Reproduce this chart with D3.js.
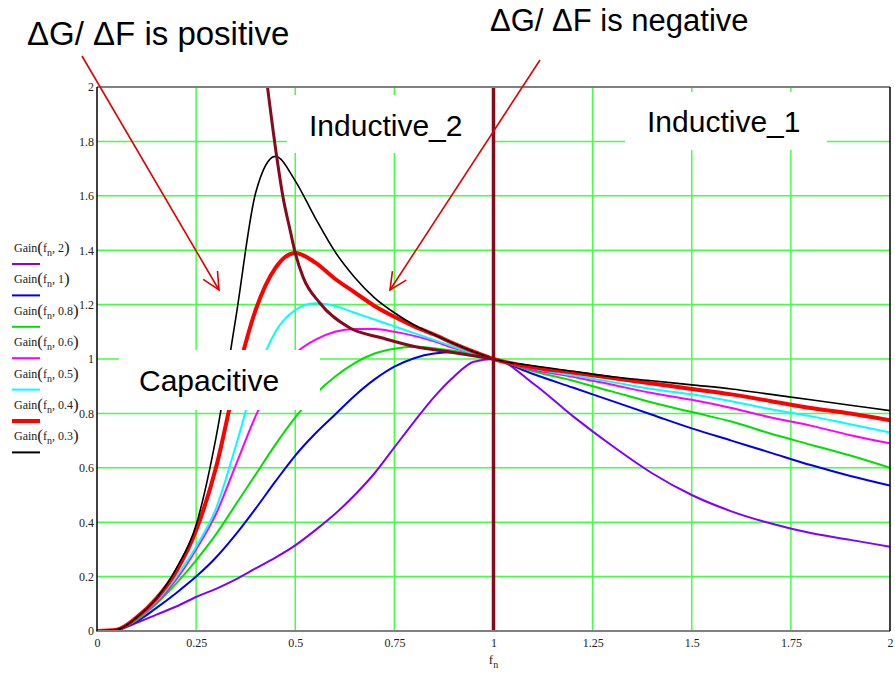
<!DOCTYPE html>
<html>
<head>
<meta charset="utf-8">
<script src="https://cdn.jsdelivr.net/npm/d3@7"></script>
<style>
	body { margin: 0; background: #fff; }
</style>
</head>
<body>
<svg id="chart" width="895" height="674"></svg>
<script>
// normalised frequency samples, shared by all gain curves
const fnVals = [0, 0.05, 0.1, 0.15, 0.2, 0.25, 0.3, 0.35, 0.4, 0.45, 0.5, 0.55, 0.6, 0.65, 0.7, 0.75, 0.8, 0.85, 0.9, 0.95, 1,
	1.1, 1.2, 1.3, 1.4, 1.5, 1.6, 1.7, 1.8, 1.9, 2];

const gainQ2 = [0, 0.004, 0.03, 0.06, 0.09, 0.125, 0.155, 0.19, 0.23, 0.27, 0.315, 0.37, 0.43, 0.5, 0.58, 0.675, 0.77, 0.86, 0.935, 0.99, 1,
	0.91, 0.79, 0.68, 0.58, 0.5, 0.44, 0.395, 0.36, 0.335, 0.31];
const gainQ1 = [0, 0.005, 0.035, 0.085, 0.14, 0.2, 0.27, 0.355, 0.45, 0.55, 0.645, 0.725, 0.795, 0.865, 0.925, 0.972, 1.003, 1.02, 1.025, 1.015, 1,
	0.945, 0.895, 0.845, 0.795, 0.745, 0.7, 0.655, 0.61, 0.57, 0.535];
const gainQ08 = [0, 0.005, 0.04, 0.1, 0.175, 0.26, 0.355, 0.465, 0.575, 0.685, 0.785, 0.87, 0.935, 0.985, 1.02, 1.038, 1.045, 1.04, 1.03, 1.015, 1,
	0.955, 0.92, 0.88, 0.84, 0.805, 0.77, 0.725, 0.685, 0.645, 0.6];
const gainQ06 = [0, 0.005, 0.045, 0.105, 0.19, 0.3, 0.43, 0.61, 0.79, 0.93, 1.02, 1.07, 1.1, 1.11, 1.11, 1.1, 1.085, 1.065, 1.04, 1.02, 1,
	0.96, 0.935, 0.905, 0.875, 0.85, 0.82, 0.785, 0.755, 0.72, 0.69];
const gainQ05 = [0, 0.005, 0.045, 0.11, 0.2, 0.31, 0.45, 0.68, 0.93, 1.1, 1.18, 1.205, 1.195, 1.17, 1.145, 1.12, 1.095, 1.07, 1.045, 1.02, 1,
	0.965, 0.94, 0.915, 0.89, 0.87, 0.845, 0.815, 0.79, 0.76, 0.73];
const gainQ04 = [0, 0.005, 0.05, 0.12, 0.22, 0.37, 0.6, 0.92, 1.18, 1.335, 1.39, 1.355, 1.295, 1.245, 1.195, 1.155, 1.12, 1.09, 1.057, 1.027, 1,
	0.97, 0.95, 0.93, 0.91, 0.89, 0.87, 0.845, 0.82, 0.8, 0.775];
const gainQ03 = [0, 0.005, 0.05, 0.12, 0.23, 0.39, 0.71, 1.15, 1.61, 1.745, 1.655, 1.52, 1.395, 1.3, 1.225, 1.17, 1.125, 1.09, 1.057, 1.027, 1,
	0.975, 0.955, 0.935, 0.92, 0.905, 0.89, 0.87, 0.85, 0.83, 0.81];

const qLabels = ["2", "1", "0.8", "0.6", "0.5", "0.4", "0.3"];
const seriesColors = ["#8000ff", "#0000f0", "#00e000", "#ff00ff", "#00ffff", "#ff0000", "#000000"];
const seriesWidths = [2, 2, 2, 2, 2, 4, 1.6];
const seriesGains = [gainQ2, gainQ1, gainQ08, gainQ06, gainQ05, gainQ04, gainQ03];

// peak gain boundary (dark red curve)
const boundFn = [0.43, 0.453, 0.469, 0.487, 0.5, 0.52, 0.562, 0.638, 0.72, 0.807, 0.89, 1.0];
const boundGain = [2.0, 1.746, 1.596, 1.474, 1.39, 1.3, 1.206, 1.114, 1.077, 1.044, 1.026, 1.0];

const xTicks = [0, 0.25, 0.5, 0.75, 1, 1.25, 1.5, 1.75, 2];
const yTicks = [0, 0.2, 0.4, 0.6, 0.8, 1, 1.2, 1.4, 1.6, 1.8, 2];

const chart = d3.select("#chart");
const plotLeft = 97, plotRight = 890, plotTop = 87, plotBottom = 631;
const gridColor = "#44ff44";
const darkRed = "#860a1e";
const tickFont = "'Liberation Serif', 'Times New Roman', serif";
const labelFont = "'Liberation Sans', Arial, sans-serif";

const x = d3.scaleLinear().domain([0, 2]).range([plotLeft, plotRight]);
const y = d3.scaleLinear().domain([0, 2]).range([plotBottom, plotTop]);

chart.append("defs").append("clipPath")
	.attr("id", "plotclip")
	.append("rect")
	.attr("x", plotLeft)
	.attr("y", plotTop)
	.attr("width", plotRight - plotLeft)
	.attr("height", plotBottom - plotTop);

// grid
const grid = chart.append("g");
grid.selectAll("line.v")
	.data(xTicks.filter(d => d > 0 && d < 2 && d !== 1))
	.enter()
	.append("line")
	.attr("x1", d => x(d))
	.attr("x2", d => x(d))
	.attr("y1", plotTop)
	.attr("y2", plotBottom)
	.attr("stroke", gridColor)
	.attr("stroke-width", 1.5);
grid.selectAll("line.h")
	.data(yTicks.filter(d => d > 0 && d < 2))
	.enter()
	.append("line")
	.attr("x1", plotLeft)
	.attr("x2", plotRight)
	.attr("y1", d => y(d))
	.attr("y2", d => y(d))
	.attr("stroke", gridColor)
	.attr("stroke-width", 1.5);

// gain curves
const line = d3.line()
	.x(d => x(d[0]))
	.y(d => y(d[1]))
	.curve(d3.curveMonotoneX);

const curves = chart.append("g").attr("clip-path", "url(#plotclip)");
curves.selectAll("path")
	.data(seriesGains)
	.enter()
	.append("path")
	.attr("d", g => line(fnVals.map((f, i) => [f, g[i]])))
	.attr("fill", "none")
	.attr("stroke", (g, i) => seriesColors[i])
	.attr("stroke-width", (g, i) => seriesWidths[i])
	.attr("stroke-linejoin", "round");

// white label boxes
const boxes = [
	{ text: "Capacitive", x0: 119, x1: 320, y0: 350, y1: 410, tx: 139, ty: 391 },
	{ text: "Inductive_2", x0: 287, x1: 495, y0: 95, y1: 153, tx: 309, ty: 136 },
	{ text: "Inductive_1", x0: 625, x1: 827, y0: 92, y1: 150, tx: 647, ty: 132 }
];
const labels = chart.append("g");
labels.selectAll("rect")
	.data(boxes)
	.enter()
	.append("rect")
	.attr("x", d => d.x0)
	.attr("y", d => d.y0)
	.attr("width", d => d.x1 - d.x0)
	.attr("height", d => d.y1 - d.y0)
	.attr("fill", "#fff");
labels.selectAll("text")
	.data(boxes)
	.enter()
	.append("text")
	.text(d => d.text)
	.attr("x", d => d.tx)
	.attr("y", d => d.ty)
	.attr("font-family", labelFont)
	.attr("font-size", 30)
	.attr("fill", "#000");

// boundary curve and fn = 1 marker
chart.append("path")
	.attr("clip-path", "url(#plotclip)")
	.attr("d", line(boundFn.map((f, i) => [f, boundGain[i]])))
	.attr("fill", "none")
	.attr("stroke", darkRed)
	.attr("stroke-width", 3);
chart.append("line")
	.attr("x1", x(1))
	.attr("x2", x(1))
	.attr("y1", plotTop)
	.attr("y2", plotBottom)
	.attr("stroke", darkRed)
	.attr("stroke-width", 3.5);

// frame
const frame = chart.append("g");
frame.append("line").attr("x1", plotLeft).attr("x2", plotRight).attr("y1", plotTop).attr("y2", plotTop)
	.attr("stroke", "#808080").attr("stroke-width", 2);
frame.append("line").attr("x1", plotLeft - 1).attr("x2", plotRight).attr("y1", plotBottom).attr("y2", plotBottom)
	.attr("stroke", "#808080").attr("stroke-width", 2);
frame.append("line").attr("x1", plotLeft).attr("x2", plotLeft).attr("y1", plotTop).attr("y2", plotBottom)
	.attr("stroke", "#000").attr("stroke-width", 1.5);
frame.append("line").attr("x1", plotRight).attr("x2", plotRight).attr("y1", plotTop).attr("y2", plotBottom)
	.attr("stroke", "#000").attr("stroke-width", 1.5);

// axes (labels only)
const xAxis = chart.append("g")
	.attr("transform", "translate(0," + plotBottom + ")")
	.call(d3.axisBottom(x).tickValues(xTicks).tickSize(0).tickPadding(7).tickFormat(d3.format("")));
const yAxis = chart.append("g")
	.attr("transform", "translate(" + plotLeft + ",0)")
	.call(d3.axisLeft(y).tickValues(yTicks).tickSize(0).tickPadding(3).tickFormat(d3.format("")));
[xAxis, yAxis].forEach(a => {
	a.select(".domain").remove();
	a.selectAll("text")
		.attr("font-family", tickFont)
		.attr("font-size", 12)
		.attr("fill", "#222");
});

const xlabel = chart.append("text")
	.attr("x", x(1))
	.attr("y", 664)
	.attr("text-anchor", "middle")
	.attr("font-family", tickFont)
	.attr("font-size", 13)
	.attr("fill", "#222");
xlabel.append("tspan").text("f");
xlabel.append("tspan").text("n").attr("font-size", 10).attr("dy", 4);

// legend
const legend = chart.append("g");
const entries = legend.selectAll("g")
	.data(qLabels)
	.enter()
	.append("g")
	.attr("transform", (d, i) => "translate(0," + (252 + i * 31.4) + ")");
const ltext = entries.append("text")
	.attr("x", 14)
	.attr("y", 0)
	.attr("font-family", tickFont)
	.attr("font-size", 12)
	.attr("fill", "#222");
ltext.append("tspan").text("Gain");
ltext.append("tspan").text("(").attr("font-size", 17).attr("dy", 1);
ltext.append("tspan").text("f").attr("dy", -1);
ltext.append("tspan").text("n").attr("font-size", 10).attr("dy", 4);
ltext.append("tspan").text(d => ", " + d).attr("dy", -4);
ltext.append("tspan").text(")").attr("font-size", 17).attr("dy", 1);
entries.append("line")
	.attr("x1", 12)
	.attr("x2", 40)
	.attr("y1", 12)
	.attr("y2", 12)
	.attr("stroke", (d, i) => seriesColors[i])
	.attr("stroke-width", (d, i) => i === 5 ? 4 : 2);

// annotations
const notes = chart.append("g")
	.attr("font-family", labelFont)
	.attr("fill", "#000");
notes.append("text").text("\u0394G/ \u0394F is positive")
	.attr("x", 27).attr("y", 45).attr("font-size", 33);
notes.append("text").text("\u0394G/ \u0394F is negative")
	.attr("x", 490).attr("y", 31).attr("font-size", 31);

const arrows = [
	{ x1: 82, y1: 56, x2: 219, y2: 290 },
	{ x1: 540, y1: 60, x2: 390, y2: 290 }
];
const arrowG = chart.append("g")
	.attr("stroke", "#e00000")
	.attr("stroke-width", 1.6)
	.attr("fill", "none");
arrows.forEach(a => {
	arrowG.append("line")
		.attr("x1", a.x1).attr("y1", a.y1)
		.attr("x2", a.x2).attr("y2", a.y2);
	const ang = Math.atan2(a.y2 - a.y1, a.x2 - a.x1);
	const len = 19, spread = 0.45;
	const p1 = [a.x2 - len * Math.cos(ang - spread), a.y2 - len * Math.sin(ang - spread)];
	const p2 = [a.x2 - len * Math.cos(ang + spread), a.y2 - len * Math.sin(ang + spread)];
	arrowG.append("path")
		.attr("d", "M" + p1 + "L" + a.x2 + "," + a.y2 + "L" + p2);
});
</script>
</body>
</html>
